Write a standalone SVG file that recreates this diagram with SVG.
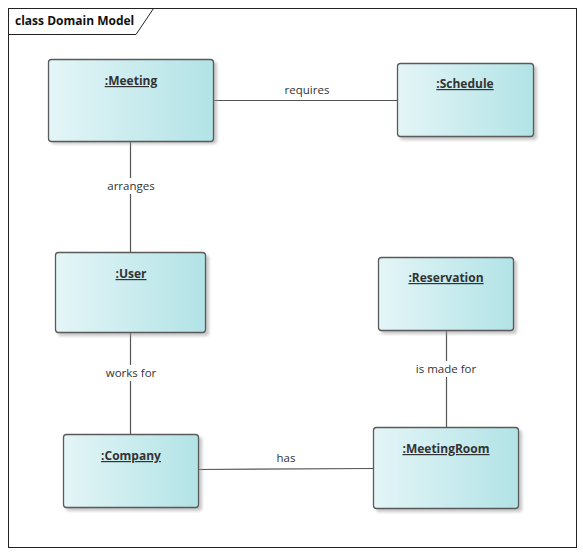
<svg xmlns="http://www.w3.org/2000/svg" width="583" height="554" viewBox="0 0 583 554">
<defs>
<linearGradient id="g" x1="0" y1="0" x2="1" y2="0">
<stop offset="0" stop-color="#e4f5f7"/>
<stop offset="1" stop-color="#b2e3e6"/>
</linearGradient>
<filter id="sh" x="-10%" y="-10%" width="130%" height="130%">
<feGaussianBlur stdDeviation="1.5"/>
</filter>
</defs>
<style>
.box{fill:url(#g);stroke:#5a5a5a;stroke-width:1.3}
.shadow{fill:#9a9a9a;opacity:0.55;filter:url(#sh)}
.name{font-family:"Open Sans","Noto Sans","Liberation Sans",sans-serif;font-size:12px;font-weight:bold;fill:#333;text-anchor:middle;text-decoration:underline}
.lbl{font-family:"Open Sans","Noto Sans","Liberation Sans",sans-serif;font-size:11.5px;fill:#333;text-anchor:middle}
.conn line{stroke:#555;stroke-width:1.2}
.title{font-family:"Open Sans","Noto Sans","Liberation Sans",sans-serif;font-size:12px;font-weight:bold;fill:#111}
</style>
<rect x="0" y="0" width="583" height="554" fill="#fff"/>
<g id="frame">
<rect x="8.5" y="8.5" width="568" height="539" fill="none" stroke="#222" stroke-width="1"/>
<path d="M8.5 34.5 H136 L153.5 8.5" fill="none" stroke="#222" stroke-width="1"/>
<text class="title" x="15" y="24.5">class Domain Model</text>
</g>
<g id="connectors" class="conn">
<line x1="214" y1="100.5" x2="397" y2="100.5"/>
<line x1="130.5" y1="141" x2="130.5" y2="252"/>
<line x1="130.5" y1="333" x2="130.5" y2="434"/>
<line x1="446.5" y1="331" x2="446.5" y2="427"/>
<line x1="199" y1="469.5" x2="373" y2="468.5"/>
<text class="lbl" x="307" y="94">requires</text>
<rect x="100" y="178" width="62" height="16" fill="#fff"/>
<text class="lbl" x="131" y="190">arranges</text>
<rect x="98" y="365" width="66" height="16" fill="#fff"/>
<text class="lbl" x="131" y="377">works for</text>
<rect x="410" y="361" width="72" height="16" fill="#fff"/>
<text class="lbl" x="446" y="373">is made for</text>
<text class="lbl" x="286" y="462">has</text>
</g>
<g id="meeting">
<rect class="shadow" x="51" y="62" width="166" height="82" rx="3"/>
<rect class="box" x="48.5" y="59.5" width="165" height="82" rx="3"/>
<text class="name" x="131" y="85">:Meeting</text>
</g>
<g id="schedule">
<rect class="shadow" x="400" y="66" width="137" height="74" rx="3"/>
<rect class="box" x="397.5" y="63.5" width="136" height="73" rx="3"/>
<text class="name" x="465" y="88">:Schedule</text>
</g>
<g id="user">
<rect class="shadow" x="58" y="255" width="151" height="81" rx="3"/>
<rect class="box" x="55.5" y="252.5" width="150" height="80" rx="3"/>
<text class="name" x="131" y="278">:User</text>
</g>
<g id="reservation">
<rect class="shadow" x="381" y="260" width="136" height="74" rx="3"/>
<rect class="box" x="378.5" y="257.5" width="135" height="73" rx="3"/>
<text class="name" x="446" y="282">:Reservation</text>
</g>
<g id="company">
<rect class="shadow" x="66" y="437" width="136" height="74" rx="3"/>
<rect class="box" x="63.5" y="434.5" width="135" height="73" rx="3"/>
<text class="name" x="131" y="460">:Company</text>
</g>
<g id="meetingroom">
<rect class="shadow" x="376" y="430" width="146" height="82" rx="3"/>
<rect class="box" x="373.5" y="427.5" width="145" height="81" rx="3"/>
<text class="name" x="446" y="453">:MeetingRoom</text>
</g>
</svg>
